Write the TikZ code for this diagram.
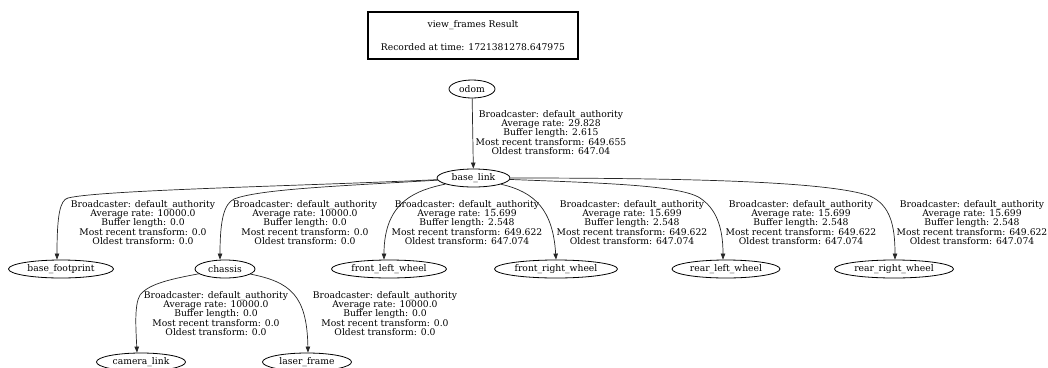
\documentclass[tikz,border=0pt]{standalone}
\usepackage{fontspec}
\setmainfont{DejaVu Serif}
\usetikzlibrary{arrows.meta,shapes.geometric}
\begin{document}
\begin{tikzpicture}[x=1pt,y=-1pt,
  every node/.style={font=\fontsize{9.2}{9.3}\selectfont},
  frame/.style={ellipse,draw,line width=0.8pt,inner sep=0pt,minimum height=18pt},
  info/.style={align=center,inner sep=0pt},
  edge/.style={draw=black!85,line width=0.7pt,-{Triangle[length=6pt,width=4.5pt]}}]
\useasboundingbox (0,0) rectangle (1048,367);

% title box
\node[draw,line width=1.4pt,minimum width=210pt,minimum height=47pt,align=center,inner sep=0pt]
  (title) at (473,35.5) {view\_frames Result\\[13.7pt]Recorded at time: 1721381278.647975};

% frames
\node[frame,minimum width=46pt] (odom) at (472,89) {odom};
\node[frame,minimum width=73pt] (bl) at (473.5,178) {base\_link};
\node[frame,minimum width=105pt] (bf) at (61,269) {base\_footprint};
\node[frame,minimum width=60pt] (ch) at (225,269) {chassis};
\node[frame,minimum width=115pt] (flw) at (389,269) {front\_left\_wheel};
\node[frame,minimum width=123pt] (frw) at (556,269) {front\_right\_wheel};
\node[frame,minimum width=108pt] (rlw) at (726,269) {rear\_left\_wheel};
\node[frame,minimum width=119pt] (rrw) at (894,269) {rear\_right\_wheel};
\node[frame,minimum width=89pt] (cam) at (141,362) {camera\_link};
\node[frame,minimum width=89pt] (laser) at (307,362) {laser\_frame};

% transforms
\draw[edge] (odom) -- (bl);
\draw[edge] (bl) .. controls (300,186) and (100,190) .. (68,198)
  .. controls (60,200) and (57,215) .. ([xshift=-4pt]bf.north);
\draw[edge] (bl) .. controls (340,186) and (260,189) .. (234,199)
  .. controls (224,204) and (220,220) .. ([xshift=-5pt]ch.north);
\draw[edge] (bl) .. controls (418,190) and (384,200) .. ([xshift=-5pt]flw.north);
\draw[edge] (bl) .. controls (535,192) and (553,210) .. (frw.north);
\draw[edge] (bl) .. controls (600,183) and (680,185) .. (700,198)
  .. controls (715,208) and (723,225) .. ([xshift=-3pt]rlw.north);
\draw[edge] (bl) .. controls (700,178) and (830,182) .. (870,196)
  .. controls (890,205) and (895,225) .. ([xshift=1pt]rrw.north);
\draw[edge] (ch) .. controls (165,280) and (148,285) .. (140,295)
  .. controls (134,305) and (136,330) .. ([xshift=-4pt]cam.north);
\draw[edge] (ch) .. controls (290,282) and (307,295) .. ([xshift=1pt]laser.north);

% transform details
\node[info] (i1) at (551,132.5) {Broadcaster: default\_authority\\Average rate: 29.828\\Buffer length: 2.615\\Most recent transform: 649.655\\Oldest transform: 647.04};
\node[info] (i2) at (143,222.5) {Broadcaster: default\_authority\\Average rate: 10000.0\\Buffer length: 0.0\\Most recent transform: 0.0\\Oldest transform: 0.0};
\node[info] (i3) at (305,222.5) {Broadcaster: default\_authority\\Average rate: 10000.0\\Buffer length: 0.0\\Most recent transform: 0.0\\Oldest transform: 0.0};
\node[info] (i4) at (467,222.5) {Broadcaster: default\_authority\\Average rate: 15.699\\Buffer length: 2.548\\Most recent transform: 649.622\\Oldest transform: 647.074};
\node[info] (i5) at (632,222.5) {Broadcaster: default\_authority\\Average rate: 15.699\\Buffer length: 2.548\\Most recent transform: 649.622\\Oldest transform: 647.074};
\node[info] (i6) at (801,222.5) {Broadcaster: default\_authority\\Average rate: 15.699\\Buffer length: 2.548\\Most recent transform: 649.622\\Oldest transform: 647.074};
\node[info] (i7) at (972,222.5) {Broadcaster: default\_authority\\Average rate: 15.699\\Buffer length: 2.548\\Most recent transform: 649.622\\Oldest transform: 647.074};
\node[info] (i8) at (216,313.5) {Broadcaster: default\_authority\\Average rate: 10000.0\\Buffer length: 0.0\\Most recent transform: 0.0\\Oldest transform: 0.0};
\node[info] (i9) at (385,313.5) {Broadcaster: default\_authority\\Average rate: 10000.0\\Buffer length: 0.0\\Most recent transform: 0.0\\Oldest transform: 0.0};
\end{tikzpicture}
\end{document}
